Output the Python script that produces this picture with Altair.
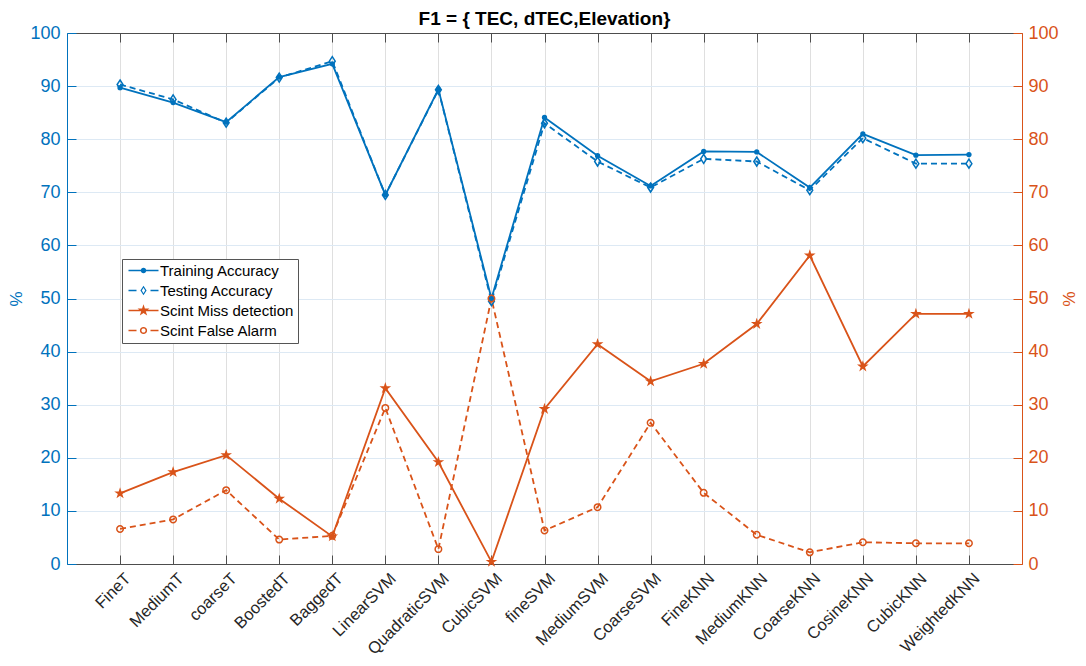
import math
import altair as alt
import pandas as pd

categories = ["FineT", "MediumT", "coarseT", "BoostedT", "BaggedT", "LinearSVM",
              "QuadraticSVM", "CubicSVM", "fineSVM", "MediumSVM", "CoarseSVM",
              "FineKNN", "MediumKNN", "CoarseKNN", "CosineKNN", "CubicKNN", "WeightedKNN"]

training_acc = [89.7, 86.9, 83.2, 91.7, 94.2, 69.5, 89.4, 50.0, 84.1, 76.9, 71.2,
                77.7, 77.6, 70.9, 81.0, 77.0, 77.1]
testing_acc = [90.3, 87.5, 83.1, 91.6, 94.7, 69.5, 89.3, 49.5, 83.0, 75.8, 70.9,
               76.3, 75.8, 70.4, 80.2, 75.4, 75.4]
miss_detection = [13.3, 17.3, 20.5, 12.3, 5.2, 33.1, 19.2, 0.4, 29.2, 41.4, 34.4,
                  37.7, 45.2, 58.1, 37.2, 47.1, 47.1]
false_alarm = [6.6, 8.4, 13.9, 4.6, 5.3, 29.4, 2.8, 50.0, 6.3, 10.7, 26.6,
               13.4, 5.5, 2.2, 4.1, 3.9, 3.9]

series_names = ["Training Accuracy", "Testing Accuracy", "Scint Miss detection", "Scint False Alarm"]
series_values = [training_acc, testing_acc, miss_detection, false_alarm]

BLUE = "#0072BD"
ORANGE = "#D95319"
DARK = "#262626"
FONT = "Liberation Sans"
W, H = 955, 531

rows = []
for name, vals in zip(series_names, series_values):
    for i, (c, v) in enumerate(zip(categories, vals)):
        rows.append({"cat": c, "idx": i, "series": name, "value": v})
df = pd.DataFrame(rows)

xscale = alt.Scale(type="point", domain=categories, padding=1)
yscale = alt.Scale(domain=[0, 100], nice=False, zero=True)
yvals = list(range(0, 101, 10))


# ---- marker shapes (unit square paths) ----
def poly(r, n=16, reverse=False):
    angs = [2 * math.pi * k / n for k in range(n)]
    if reverse:
        angs = angs[::-1]
    pts = [f"{r * math.cos(a):.3f},{r * math.sin(a):.3f}" for a in angs]
    return "M" + "L".join(pts) + "Z"


def star(r):
    pts = []
    for k in range(10):
        rr = r if k % 2 == 0 else r * 0.382
        a = math.radians(-90 + 36 * k)
        pts.append(f"{rr * math.cos(a):.4f},{rr * math.sin(a):.4f}")
    return "M" + "L".join(pts) + "Z"


DIAMOND = "M0,-1L0.65,0L0,1L-0.65,0Z"
STAR = star(1.0)

# legend symbols (filled paths, unit = 5px)
LINE = "M-3,-0.17L3,-0.17L3,0.17L-3,0.17Z"
DASHES = "M-3,-0.17L-1.4,-0.17L-1.4,0.17L-3,0.17ZM1.4,-0.17L3,-0.17L3,0.17L1.4,0.17Z"
LEG_TRAIN = LINE + poly(0.55)
LEG_TEST = DASHES + "M0,-0.95L0.62,0L0,0.95L-0.62,0ZM0,-0.55L-0.33,0L0,0.55L0.33,0Z"
LEG_MISS = LINE + star(1.25)
LEG_FA = DASHES + poly(0.72) + poly(0.42, reverse=True)


def X(axis):
    return alt.X("cat:N", scale=xscale, axis=axis, title=None)


def Y(axis):
    return alt.Y("value:Q", scale=yscale, axis=axis, title=None)


ax_x_labels = alt.Axis(orient="bottom", domain=False, ticks=False, tickSize=0,
                       labelAngle=-45, labelAlign="right", labelBaseline="top",
                       labelFontSize=16.5, labelFont=FONT, labelColor=DARK,
                       labelPadding=6, labelOffset=2, labelOverlap=False, grid=True,
                       gridColor="#dfdfdf", gridWidth=1)
ax_x_bottom_ticks = alt.Axis(orient="top", offset=-H, domain=True, domainColor="#4d4d4d",
                             ticks=True, tickSize=9, tickColor="#4d4d4d", labels=False, grid=False)
ax_x_top_ticks = alt.Axis(orient="bottom", offset=-H, domain=True, domainColor="#4d4d4d",
                          ticks=True, tickSize=9, tickColor="#4d4d4d", labels=False, grid=False)

ax_y_left = alt.Axis(orient="left", values=yvals, domain=False, ticks=False, tickSize=0,
                     labelColor=BLUE, labelFontSize=18, labelFont=FONT, labelPadding=7,
                     grid=True, gridColor="#dde9f4", gridWidth=1,
                     title="%", titleColor=BLUE, titleFontSize=17, titleFont=FONT,
                     titleFontWeight="normal", titlePadding=4)
ax_y_left_ticks = alt.Axis(orient="right", offset=-W, values=yvals, domain=True, domainColor=BLUE,
                           ticks=True, tickSize=9, tickColor=BLUE, labels=False, grid=False)
ax_y_right = alt.Axis(orient="right", values=yvals, domain=False, ticks=False, tickSize=0,
                      labelColor=ORANGE, labelFontSize=18, labelFont=FONT, labelPadding=6,
                      grid=False, title="%", titleColor=ORANGE, titleFontSize=17, titleFont=FONT,
                      titleFontWeight="normal", titlePadding=0)
ax_y_right_ticks = alt.Axis(orient="left", offset=-W, values=yvals, domain=True, domainColor=ORANGE,
                            ticks=True, tickSize=9, tickColor=ORANGE, labels=False, grid=False)

base = alt.Chart(df)
order = alt.Order("idx:Q")


def sel(k):
    return base.transform_filter(alt.datum.series == series_names[k])


train_line = sel(0).mark_line(color=BLUE, strokeWidth=1.8).encode(
    x=X(ax_x_labels), y=Y(ax_y_left), order=order)
test_line = sel(1).mark_line(color=BLUE, strokeWidth=1.8, strokeDash=[6, 4]).encode(
    x=X(None), y=Y(None), order=order)
miss_line = sel(2).mark_line(color=ORANGE, strokeWidth=1.8).encode(
    x=X(None), y=Y(ax_y_right), order=order)
fa_line = sel(3).mark_line(color=ORANGE, strokeWidth=1.8, strokeDash=[6, 4]).encode(
    x=X(None), y=Y(None), order=order)

train_pts = sel(0).mark_point(
    shape="circle", filled=True, size=28, color=BLUE, opacity=1).encode(
    x=X(ax_x_bottom_ticks), y=Y(ax_y_left_ticks))
test_pts = sel(1).mark_point(
    shape=DIAMOND, filled=False, size=81, color=BLUE, strokeWidth=1.5, opacity=1).encode(
    x=X(ax_x_top_ticks), y=Y(None))
miss_pts = sel(2).mark_point(
    shape=STAR, filled=True, size=150, color=ORANGE, opacity=1).encode(
    x=X(None), y=Y(ax_y_right_ticks))
fa_pts = sel(3).mark_point(
    shape="circle", filled=False, size=42, color=ORANGE, strokeWidth=1.5, opacity=1).encode(
    x=X(None), y=Y(None))

legend_props = dict(orient="none", legendX=55, legendY=226, title=None,
                    symbolSize=100, symbolStrokeWidth=0,
                    symbolOffset=10, labelOffset=9,
                    labelFontSize=15, labelFont=FONT, labelColor="#000",
                    strokeColor="#555555", fillColor="white",
                    padding=4, rowPadding=4, cornerRadius=0)

# legend-only layer: draws no marks (filtered to no rows), carries the legend
legend_layer = base.transform_filter("datum.value < 0").mark_point(
    filled=True, size=100, opacity=1).encode(
    x=X(None), y=Y(None),
    color=alt.Color("series:N", scale=alt.Scale(domain=series_names,
                                                 range=[BLUE, BLUE, ORANGE, ORANGE]),
                    legend=alt.Legend(**legend_props)),
    shape=alt.Shape("series:N", scale=alt.Scale(domain=series_names,
                                                 range=[LEG_TRAIN, LEG_TEST, LEG_MISS, LEG_FA]),
                    legend=alt.Legend(**legend_props)),
)

chart = alt.layer(
    train_line, test_line, miss_line, fa_line,
    train_pts, test_pts, miss_pts, fa_pts, legend_layer
).resolve_scale(
    y="independent", x="shared"
).resolve_axis(
    y="independent", x="independent"
).properties(
    width=W, height=H,
    title=alt.TitleParams("F1 = { TEC, dTEC,Elevation}", fontSize=19, font=FONT,
                          fontWeight="bold", color="#000", anchor="middle", offset=-5),
    autosize=alt.AutoSizeParams(type="none"),
    padding={"left": 59, "top": 25, "right": 56, "bottom": 94},
).configure_view(stroke=None).configure(background="white")

chart.save("out.html", embed_options={"renderer": "svg", "actions": False})
